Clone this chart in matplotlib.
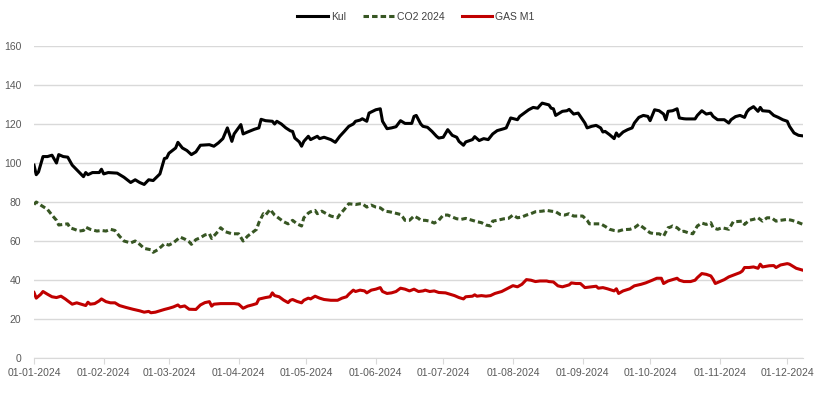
import pandas as pd
import numpy as np
import matplotlib
matplotlib.use('Agg')
import matplotlib.pyplot as plt
import matplotlib.dates as mdates

# day offsets from 01-01-2024 and values
kul_days = [0, 1, 2, 4, 6, 8, 10, 11, 13, 15, 17, 20, 22, 23, 24, 26, 29, 30, 31, 33, 37, 40, 43, 45, 47, 49, 51, 53, 56,
            58, 59, 60, 63, 64, 66, 68, 70, 72, 74, 78, 80, 82, 84, 86, 88, 89, 92, 93, 95, 98, 100, 101, 103, 106, 107,
            108, 110, 112, 114, 115, 116, 118, 119, 120, 122, 123, 126, 127, 129, 132, 134, 136, 138, 140, 142, 143, 145,
            146, 148, 149, 152, 154, 155, 157, 159, 161, 163, 165, 168, 169, 170, 172, 173, 175, 177, 179, 180, 182, 184,
            186, 188, 189, 191, 192, 195, 196, 198, 200, 202, 204, 206, 209, 210, 212, 215, 216, 218, 220, 222, 224, 225,
            226, 229, 230, 231, 232, 235, 237, 238, 240, 242, 243, 245, 246, 248, 250, 252, 253, 254, 256, 258, 259, 260,
            262, 264, 266, 267, 269, 271, 273, 274, 276, 278, 280, 281, 282, 284, 286, 287, 289, 290, 294, 295, 297, 299,
            301, 302, 304, 307, 309, 310, 312, 314, 316, 317, 318, 320, 322, 323, 324, 327, 329, 331, 333, 335, 336, 338,
            340, 342]
kul = [98.9, 94, 95.4, 103.3, 103.3, 104, 100, 104.3, 103.3, 103, 98.9, 95.4, 93, 95.1, 94, 95.1, 95.1, 96.8, 94.4, 95.1,
       94.8, 92.7, 90, 91.4, 90, 89, 91.4, 91, 94.4,
       102.3, 102.6, 105, 107.7, 110.6, 107.7, 106.4, 104.3, 105.7, 109.1, 109.4, 108.6, 110.3, 112.5, 118, 111.1, 114.9,
       119.7, 114.9, 115.9, 117.3, 118, 122.4, 121.7, 121.4, 120,
       121.4, 120, 118, 116.5, 116.2, 112.8, 110.8, 108.6, 111.1, 113.7, 112, 113.7, 112.5, 113.2, 112, 110.6, 113.7, 116.2,
       118.8, 120, 121.4, 122,
       122.7, 121.4, 125.6, 127.3, 127.8, 121.4, 117.6, 118, 118.6, 121.7, 120.3, 120.3, 123.9, 124.4, 120, 118.8, 118.3,
       116.2, 113.7, 112.8, 113.2, 117.1,
       114.2, 113.2, 111.1, 109.1, 110.8, 112, 113.5, 111.5, 112.5, 112, 114.9, 116.6, 117.6, 118, 123.1, 122.2, 123.9,
       125.6, 127.3, 128.5, 128.1, 129.5,
       130.7, 129.8, 128.1, 127.8, 124.4, 126.5, 126.8, 127.5, 125.1, 125.6, 123.9, 120.5, 118, 118.8, 119.3, 118, 115.9,
       116.2, 114.5, 112.5, 115.4, 113.7,
       115.9, 117.1, 118, 120.5, 123.4, 124.4, 123.9, 121.7, 127.3, 126.8, 125.1, 122.2, 126.5, 126.8, 127.8, 123.1, 122.7,
       122.6, 122.6, 124.4, 126.8, 125.1,
       125.6, 123.9, 122.2, 122.2, 120.5, 122.2, 123.8, 124.4, 123.4, 126.1, 127.5, 128.9, 126.5, 128.5, 126.8, 126.5,
       124.4, 123.4, 122.2, 121.4, 118.8, 115.4,
       114.2, 113.9]

co2_days = [0, 1, 3, 6, 8, 10, 11, 13, 15, 16, 18, 20, 22, 23, 25, 28, 30, 32, 34, 36, 38, 40, 43, 45, 47, 49, 52, 53, 55,
            57, 58, 60, 62, 65, 67, 69, 70, 72, 74, 76, 78, 79, 82, 83, 85, 88, 91, 93, 95, 98, 99, 100, 102, 103, 105,
            107, 109, 111, 113, 115, 117, 119, 120, 122, 123, 125, 126, 128, 130, 132, 135, 136, 138, 140, 143, 145, 146,
            148, 150, 152, 154, 156, 158, 160, 163, 164, 165, 167, 169, 171, 172, 174, 176, 178, 180, 182, 184, 186, 188,
            190, 192, 195, 197, 199, 201, 203, 204, 206, 209, 211, 213, 215, 217, 219, 221, 223, 226, 228, 230, 232, 234,
            236, 238, 240, 242, 244, 246, 247, 250, 252, 254, 256, 258, 260, 262, 265, 267, 269, 270, 272, 274, 276, 278,
            280, 282, 283, 284, 286, 288, 289, 291, 293, 295, 297, 299, 301, 302, 304, 306, 309, 311, 312, 315, 316, 318,
            320, 322, 324, 326, 328, 330, 332, 335, 337, 339, 342]
co2 = [78.7, 80, 78.4, 76.2, 73.3, 70.6, 68.2, 68.5, 68.8, 66.8, 66, 65.1, 65.4, 67.1, 66, 65.1, 65.4, 65.1, 66, 65.4, 62.5,
       60, 59, 60, 58.3, 56.2, 55.5, 54.2, 55.5,
       57.5, 58.6, 57.9, 59.1, 62, 61, 59.6, 58.3, 60.7, 61.7, 63.1, 63.7, 61.3, 65.1, 66.8, 64.8, 63.7, 63.7, 60, 62.5, 65.1,
       66, 69.4, 74, 73.3, 76.2,
       73.3, 71.6, 69.9, 68.8, 70.6, 68.8, 67.7, 71.9, 74.3, 75, 75.7, 74, 75.3, 74, 72.8, 71.9, 73.6, 76.2, 79.1, 78.7,
       79.1, 79.1,
       77.4, 78.4, 77.4, 77, 75.3, 75, 74.5, 73.6, 72.3, 70.6, 70.6, 72.8, 71.6, 70.6, 70.6, 70.2, 69.2, 70.6, 73.3, 73.3,
       72.3, 71.4,
       71.1, 71.6, 70.6, 69.9, 69.4, 68.2, 67.7, 70.2, 70.6, 71.4, 71.6, 73.3, 71.9, 72.3, 73.3, 74, 75, 75.3, 75.7, 75.3,
       75, 73.6,
       73.3, 74, 72.8, 72.8, 72.8, 70.6, 68.8, 68.8, 68.8, 67.5, 66, 65.4, 65.1, 65.8, 66, 66.8, 68.5, 67.7, 66, 64.2, 63.7,
       63.7,
       62.5, 66.8, 67.1, 67.7, 66.8, 64.8, 65, 64.2, 63.7, 67.7, 69.2, 68.5, 69.4, 66.8, 66, 66.8, 66, 69.9, 69.9, 70.2,
       68.5, 70.6,
       71.1, 71.9, 70.2, 71.9, 71.9, 70.2, 70.6, 71.1, 70.6, 69.9, 68.5]

gas_days = [0, 1, 3, 4, 6, 8, 10, 12, 14, 15, 17, 19, 21, 23, 24, 25, 27, 29, 30, 32, 34, 36, 38, 41, 44, 47, 49, 51, 52,
            54, 56, 58, 60, 62, 64, 65, 67, 69, 72, 74, 76, 78, 79, 80, 83, 86, 89, 91, 93, 95, 97, 99, 100, 103, 105, 106,
            107, 109, 111, 113, 114, 115, 117, 119, 120, 122, 123, 125, 127, 129, 132, 135, 137, 139, 140, 142, 143, 145,
            147, 148, 150, 152, 154, 155, 157, 159, 161, 163, 165, 167, 169, 171, 173, 174, 176, 178, 180, 183, 185, 187,
            189, 191, 192, 195, 196, 197, 199, 201, 203, 205, 208, 210, 213, 215, 217, 219, 221, 223, 225, 228, 229, 231,
            233, 235, 238, 239, 241, 243, 245, 248, 250, 251, 253, 255, 258, 259, 260, 262, 265, 267, 270, 272, 275, 277,
            279, 280, 282, 284, 286, 287, 289, 292, 294, 295, 297, 299, 301, 302, 303, 305, 307, 309, 312, 314, 315, 316,
            318, 320, 322, 323, 324, 327, 329, 330, 332, 335, 336, 338, 339, 342]
gas = [33.6, 30.7, 32.7, 34.1, 32.7, 31.4, 31, 31.7, 30.2, 29.3, 27.6, 28.3, 27.6, 26.9, 28.6, 27.6, 27.9, 29.3, 30.3, 28.9,
       28.3, 28.3, 26.9, 25.9, 25, 24.2, 23.5, 23.9, 23.2,
       23.5, 24.2, 24.9, 25.5, 26.2, 27.2, 26.2, 26.7, 25, 24.9, 27.2, 28.4, 28.9, 26.6, 27.6, 27.9, 27.9, 27.9, 27.6, 25.5,
       26.6, 27.2, 27.9, 30.2, 31, 31.4, 33.4,
       32, 31.4, 29.7, 28.4, 29.6, 30, 29, 28.3, 29.6, 30.7, 30.3, 31.7, 30.7, 30, 29.6, 29.6, 30.7, 31.4, 32.7, 34.8, 34.1,
       34.8,
       34.4, 33.4, 34.8, 35.3, 36.1, 34.1, 33.1, 33.4, 34.1, 35.8, 35.3, 34.4, 35.3, 34.1, 34.4, 34.8, 34.1, 34.4, 33.6,
       33.4, 32.7, 32,
       31, 30.3, 31.4, 31.7, 32.4, 31.7, 32, 31.7, 32, 33.1, 34.1, 35.3, 37.1, 36.5, 37.8, 40.2, 39.9, 39.2, 39.5, 39.5,
       39.2, 39,
       37, 36.5, 37.5, 38.5, 38.2, 38.2, 36.1, 36.5, 36.8, 35.8, 36.1, 35.5, 34.4, 35.5, 33.1, 34.4, 35.5, 37, 37.8, 38.5,
       39.9, 40.9,
       40.9, 38.2, 39.5, 40.2, 40.9, 39.9, 39.2, 39.2, 39.9, 41.2, 43.3, 42.9, 42.1, 40.4, 38.2, 39.2, 40.2, 41.6, 42.9,
       43.8, 44.6, 46.4,
       46.4, 46.7, 46, 48.1, 46.7, 47.3, 47.4, 46.4, 47.7, 48.4, 48.1, 46.7, 46, 45]

start = pd.Timestamp('2024-01-01')
kul_dates = start + pd.to_timedelta(kul_days, unit='D')
co2_dates = start + pd.to_timedelta(co2_days, unit='D')
gas_dates = start + pd.to_timedelta(gas_days, unit='D')

plt.rcParams['font.family'] = ['Liberation Sans', 'DejaVu Sans']
grey = '#595959'
fs = 7.5

fig = plt.figure(figsize=(8.32, 4.17), dpi=100)
ax = fig.add_axes([34 / 832, 1 - 358 / 417, (803 - 34) / 832, (358 - 46) / 417])

ax.plot(kul_dates, kul, color='black', lw=2.2, label='Kul', solid_joinstyle='round')
ax.plot(co2_dates, co2, color='#375623', lw=2.2, dashes=(1.8, 1.0), label='CO2 2024')
ax.plot(gas_dates, gas, color='#c00000', lw=2.2, label='GAS M1', solid_joinstyle='round')

ax.set_ylim(0, 160)
ax.set_yticks(range(0, 161, 20))
ax.set_xlim(start, start + pd.Timedelta(days=342))
month_starts = pd.date_range('2024-01-01', '2024-12-01', freq='MS')
ax.set_xticks(month_starts)
ax.xaxis.set_major_formatter(mdates.DateFormatter('%d-%m-%Y'))

ax.grid(axis='y', color='#d9d9d9', lw=1)
ax.set_axisbelow(True)
for s in ['top', 'right', 'left']:
    ax.spines[s].set_visible(False)
ax.spines['bottom'].set_color('#d9d9d9')
ax.tick_params(axis='y', length=0, labelsize=fs, labelcolor=grey, pad=9)
ax.tick_params(axis='x', length=4, color='#d9d9d9', labelsize=fs, labelcolor=grey, pad=3)

fig.legend(loc='center', bbox_to_anchor=(0.5, 1 - 17 / 417), ncol=3, frameon=False, fontsize=fs,
           handlelength=2.9, handletextpad=0.3, columnspacing=1.7, labelcolor='#404040')

fig.savefig('out.png', dpi=100)
